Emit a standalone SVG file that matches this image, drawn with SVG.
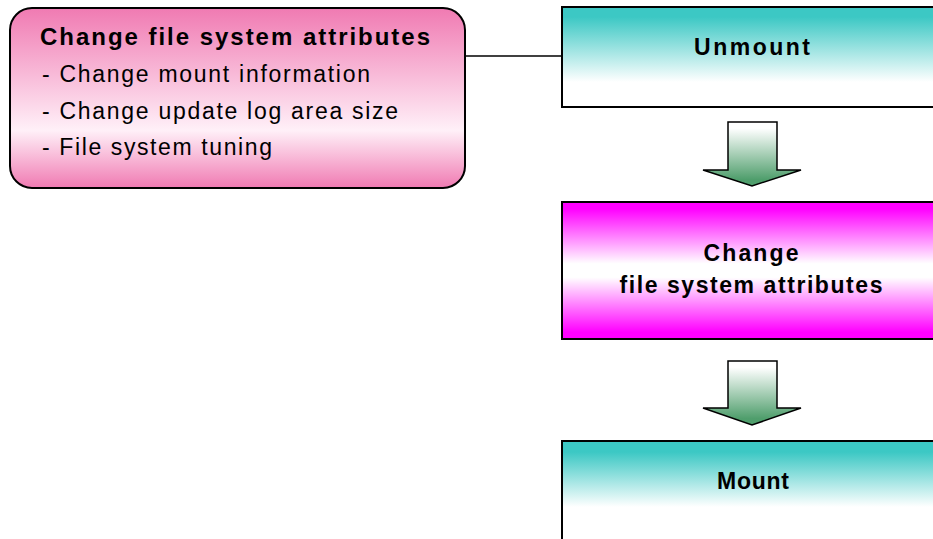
<svg xmlns="http://www.w3.org/2000/svg" width="933" height="539" viewBox="0 0 933 539">
<style>
.box{stroke:#000;stroke-width:2}
.t{font-family:"Liberation Sans",Arial,sans-serif;fill:#000}
.b{font-weight:bold;font-size:24px}
.bb{font-weight:bold;font-size:23px}
.r{font-size:23px}
.arrow{stroke:#000;stroke-width:1.5;fill:url(#gGreen)}
</style>
<defs>
<linearGradient id="gPink" x1="0" y1="0" x2="0" y2="1">
<stop offset="0" stop-color="#f07ab2"/>
<stop offset="0.68" stop-color="#fff0f8"/>
<stop offset="1" stop-color="#f07ab2"/>
</linearGradient>
<linearGradient id="gTeal" x1="0" y1="0" x2="0" y2="1">
<stop offset="0.1" stop-color="#3cc8c4"/>
<stop offset="0.75" stop-color="#ffffff"/>
</linearGradient>
<linearGradient id="gTeal2" x1="0" y1="0" x2="0" y2="1">
<stop offset="0.1" stop-color="#3cc8c4"/>
<stop offset="0.6" stop-color="#ffffff"/>
</linearGradient>
<linearGradient id="gMag" x1="0" y1="0" x2="0" y2="1">
<stop offset="0.05" stop-color="#ff00ff"/>
<stop offset="0.45" stop-color="#ffffff"/>
<stop offset="0.55" stop-color="#ffffff"/>
<stop offset="0.95" stop-color="#ff00ff"/>
</linearGradient>
<linearGradient id="gGreen" x1="0" y1="0" x2="0" y2="1">
<stop offset="0.1" stop-color="#ffffff"/>
<stop offset="0.9" stop-color="#4f9e6c"/>
</linearGradient>
</defs>
<rect width="933" height="539" fill="#fff"/>
<g id="connectors">
<line x1="465" y1="56" x2="562" y2="56" stroke="#000" stroke-width="1.5"/>
<path class="arrow" d="M728,122 H777 V170 H801 L752,186 L703,170 H728 Z"/>
<path class="arrow" d="M728,361 H777 V408 H801 L752,425 L703,408 H728 Z"/>
</g>
<g id="note">
<rect class="box" x="10" y="8" width="455" height="180" rx="22" ry="22" fill="url(#gPink)"/>
<text class="t b" x="40" y="45" textLength="390" lengthAdjust="spacing">Change file system attributes</text>
<text class="t r" x="42" y="82" textLength="328" lengthAdjust="spacing">- Change mount information</text>
<text class="t r" x="42" y="119" textLength="356" lengthAdjust="spacing">- Change update log area size</text>
<text class="t r" x="42" y="155" textLength="230" lengthAdjust="spacing">- File system tuning</text>
</g>
<g id="unmount">
<rect class="box" x="562" y="7" width="380" height="100" fill="url(#gTeal)"/>
<text class="t bb" x="752" y="55" text-anchor="middle" textLength="116" lengthAdjust="spacing">Unmount</text>
</g>
<g id="change">
<rect class="box" x="562" y="202" width="380" height="137" fill="url(#gMag)"/>
<text class="t bb" x="751" y="261" text-anchor="middle" textLength="95" lengthAdjust="spacing">Change</text>
<text class="t bb" x="751" y="293" text-anchor="middle" textLength="263" lengthAdjust="spacing">file system attributes</text>
</g>
<g id="mount">
<rect class="box" x="562" y="441" width="380" height="110" fill="url(#gTeal2)"/>
<text class="t bb" x="753" y="489" text-anchor="middle" textLength="72" lengthAdjust="spacing">Mount</text>
</g>
</svg>
